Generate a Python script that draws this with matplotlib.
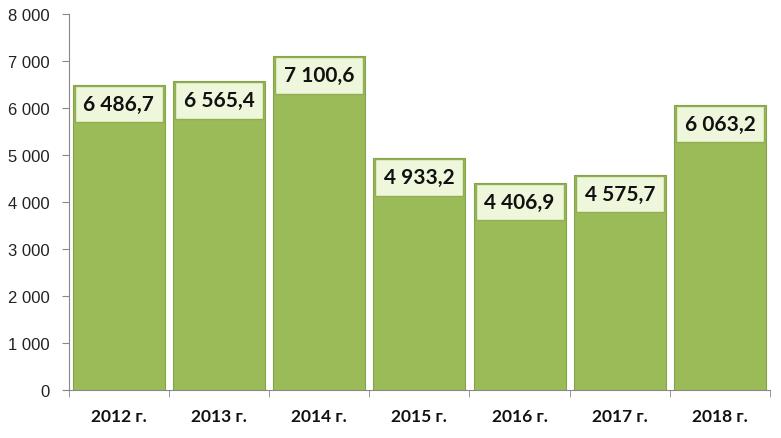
import matplotlib.pyplot as plt
from matplotlib.patches import Rectangle
import numpy as np

# данные
years = ['2012 г.', '2013 г.', '2014 г.', '2015 г.', '2016 г.', '2017 г.', '2018 г.']
values = [6486.7, 6565.4, 7100.6, 4933.2, 4406.9, 4575.7, 6063.2]
yticks = [0, 1000, 2000, 3000, 4000, 5000, 6000, 7000, 8000]

bar_color = '#9BBB59'
box_color = '#EEF7DC'
box_edge = '#8FAF50'


def fmt(v):
    # "6 486,7"
    s = f'{v:,.1f}'
    return s.replace(',', ' ').replace('.', ',')


fig = plt.figure(figsize=(7.81, 4.39), dpi=100)
ax = fig.add_axes([0.088, 0.109, 0.898, 0.857])

x = np.arange(len(years))
bar_w = 0.92
ax.bar(x, values, width=bar_w, color=bar_color, edgecolor='#86A34A', linewidth=0.8, zorder=2)

# подписи значений в светлых рамках у вершин столбцов
box_h = 780
for xi, v in zip(x, values):
    ax.add_patch(Rectangle((xi - bar_w / 2 + 0.02, v - box_h - 15), bar_w - 0.04, box_h,
                           facecolor=box_color, edgecolor=box_edge, linewidth=1.0, zorder=3))
    ax.text(xi, v - 15 - box_h / 2, fmt(v), ha='center', va='center',
            fontsize=15, fontweight='bold', family='Lato', color='#111111', zorder=4)

ax.set_xlim(-0.5, len(years) - 0.5)
ax.set_ylim(0, 8000)
ax.set_yticks(yticks)
ax.set_yticklabels([f'{t:,}'.replace(',', ' ') for t in yticks],
                   fontsize=12, family='Liberation Sans', color='#222222')
ax.set_xticks(x)
ax.set_xticklabels(years, fontsize=12.5, fontweight='bold', family='Lato', color='#111111')
ax.tick_params(axis='x', length=0, pad=13)
ax.set_xticks(np.arange(-0.5, len(years), 1.0), minor=True)
ax.tick_params(axis='x', which='minor', length=5, color='#888888')
ax.tick_params(axis='y', length=5, color='#888888', pad=9)

for s in ['top', 'right']:
    ax.spines[s].set_visible(False)
for s in ['left', 'bottom']:
    ax.spines[s].set_color('#888888')

fig.savefig('out.png', dpi=100)
